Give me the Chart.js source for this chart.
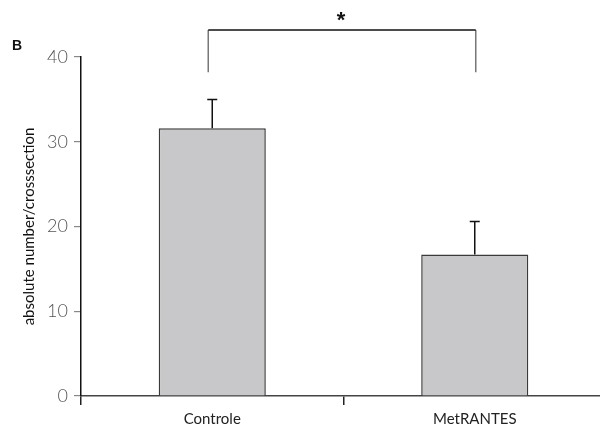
<!DOCTYPE html>
<html>
<head>
<meta charset="utf-8">
<script src="https://cdn.jsdelivr.net/npm/chart.js@4"></script>
<style>
  html, body { margin: 0; padding: 0; background: #fff; }
  #wrap { position: relative; width: 600px; height: 430px; }
  #panel { position: absolute; left: 12px; top: 37px; font: bold 14px "Liberation Sans", Arial, sans-serif; color: #111; }
</style>
</head>
<body>
<div id="wrap">
  <canvas id="c" width="600" height="430"></canvas>
  <div id="panel">B</div>
</div>
<script>
const categories = ["Controle", "MetRANTES"];
const means = [31.6, 16.7];
const errors = [3.4, 3.9];
const yTicks = [0, 10, 20, 30, 40];
const yTitle = "absolute number/crosssection";
const sigLabel = "*";

// extend plot area slightly past the right canvas edge, as in the original figure
const widenArea = {
  id: 'widenArea',
  afterLayout(chart) {
    const x = chart.scales.x;
    const newRight = 606;
    x.right = newRight;
    x.width = newRight - x.left;
    x.configure();
    chart.chartArea.right = newRight;
    chart.chartArea.width = newRight - chart.chartArea.left;
  }
};

const errorBars = {
  id: 'errorBars',
  afterDatasetsDraw(chart) {
    const ctx = chart.ctx, y = chart.scales.y;
    const meta = chart.getDatasetMeta(0);
    ctx.save();
    ctx.strokeStyle = '#111';
    ctx.lineWidth = 1.5;
    meta.data.forEach((bar, i) => {
      const top = y.getPixelForValue(means[i] + errors[i]);
      ctx.beginPath();
      ctx.moveTo(bar.x, bar.y);
      ctx.lineTo(bar.x, top);
      ctx.moveTo(bar.x - 5, top);
      ctx.lineTo(bar.x + 5, top);
      ctx.stroke();
    });
    ctx.restore();
  }
};

const bracket = {
  id: 'bracket',
  afterDraw(chart) {
    const ctx = chart.ctx, y = chart.scales.y;
    const meta = chart.getDatasetMeta(0);
    const x1 = meta.data[0].x - 4, x2 = meta.data[1].x + 1;
    const yTop = y.getPixelForValue(43.2);
    const yBot = y.getPixelForValue(38.2);
    ctx.save();
    ctx.lineWidth = 1.5;
    ctx.strokeStyle = '#777';
    ctx.beginPath();
    ctx.moveTo(x1, yBot); ctx.lineTo(x1, yTop);
    ctx.moveTo(x2, yTop); ctx.lineTo(x2, yBot);
    ctx.stroke();
    ctx.strokeStyle = '#111';
    ctx.beginPath();
    ctx.moveTo(x1, yTop); ctx.lineTo(x2, yTop);
    ctx.stroke();
    ctx.fillStyle = '#111';
    ctx.font = 'bold 22px "Liberation Sans", Arial, sans-serif';
    ctx.textAlign = 'center';
    ctx.textBaseline = 'middle';
    ctx.fillText(sigLabel, (x1 + x2) / 2 - 1, y.getPixelForValue(44.9) + 5);
    ctx.restore();
  }
};

new Chart(document.getElementById('c'), {
  type: 'bar',
  data: {
    labels: categories,
    datasets: [{
      data: means,
      backgroundColor: '#c8c8ca',
      borderColor: '#3a3a3a',
      borderWidth: 1.5,
      barPercentage: 0.408,
      categoryPercentage: 1.0
    }]
  },
  options: {
    responsive: false,
    animation: false,
    layout: { padding: { top: 57, right: 0, bottom: 4, left: 0 } },
    plugins: { legend: { display: false }, tooltip: { enabled: false } },
    scales: {
      x: {
        type: 'category',
        offset: true,
        afterFit(s) { s.height = 30; },
        grid: { offset: true, drawOnChartArea: false, drawTicks: true, tickLength: 9, color: '#222', lineWidth: 1.5 },
        border: { display: true, color: '#444', width: 1.5 },
        ticks: { color: '#222', padding: 5, font: { family: 'Lato', size: 15 } }
      },
      y: {
        min: 0, max: 40,
        afterFit(s) { s.width = 81; },
        afterBuildTicks(s) { s.ticks = yTicks.map(v => ({ value: v })); },
        grid: { drawOnChartArea: false, drawTicks: true, tickLength: 7, color: '#888', lineWidth: 1.2 },
        border: { display: true, color: '#111', width: 1.5 },
        ticks: { color: '#555', padding: 6, font: { family: 'Lato', size: 18, weight: '300' } },
        title: { display: true, text: yTitle, color: '#111', padding: { top: 20, bottom: 0 }, font: { family: 'Lato', size: 15 } }
      }
    }
  },
  plugins: [widenArea, errorBars, bracket]
});
</script>
</body>
</html>
